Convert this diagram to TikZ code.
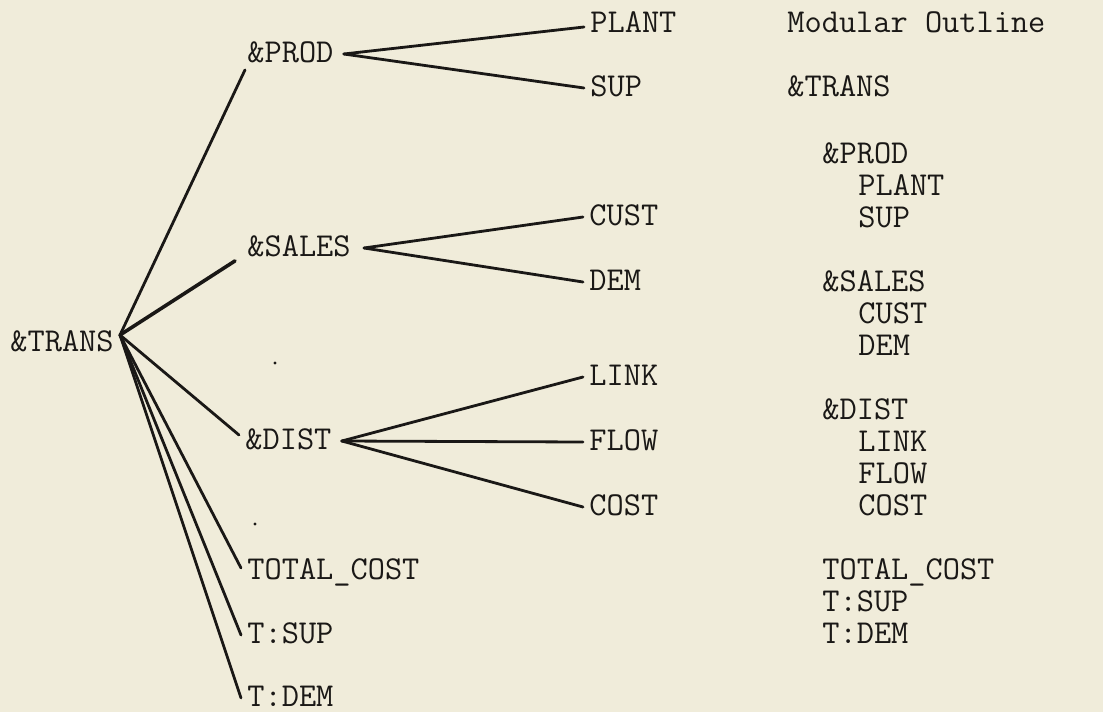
\documentclass[tikz,border=0pt]{standalone}
\usepackage{fontspec}
\definecolor{paper}{RGB}{240,236,218}
\definecolor{ink}{RGB}{26,24,22}
\begin{document}
\begin{tikzpicture}[x=0.5pt,y=-0.5pt,
  lbl/.style={anchor=west, inner xsep=3pt, inner ysep=2pt,
    text height=0.85em, text depth=0pt,
    font=\ttfamily\fontsize{16.7}{19}\selectfont\addfontfeature{FakeBold=0.7}, text=ink},
  branch/.style={draw=ink, line width=1.4pt, line cap=round},
  speck/.style={fill=ink}]
% sheet
\fill[paper] (0,0) rectangle (1103,712);
\useasboundingbox (0,0) rectangle (1103,712);

% ---- tree ----
\node[lbl] (trans) at (4,343) {\&TRANS};
\node[lbl] (prod)  at (241,54)  {\&PROD};
\node[lbl] (sales) at (241,248) {\&SALES};
\node[lbl] (dist)  at (239,441) {\&DIST};
\node[lbl] (tc)    at (241,571) {TOTAL\_COST};
\node[lbl] (tsup)  at (241,635) {T:SUP};
\node[lbl] (tdem)  at (241,698) {T:DEM};

\node[lbl] (plant) at (584,24)  {PLANT};
\node[lbl] (sup)   at (584,88)  {SUP};
\node[lbl] (cust)  at (583,217) {CUST};
\node[lbl] (dem)   at (583,282) {DEM};
\node[lbl] (link)  at (583,377) {LINK};
\node[lbl] (flow)  at (583,442) {FLOW};
\node[lbl] (cost)  at (583,507) {COST};

% branch points
\coordinate (tj) at ([yshift=4pt]trans.east);
\coordinate (pj) at ([xshift=2pt]prod.east);
\coordinate (sj) at ([xshift=3.5pt]sales.east);
\coordinate (dj) at ([xshift=2pt]dist.east);

\draw[branch] (tj) -- ([xshift=2pt,yshift=-1.5pt]prod.south west);
\draw[branch, line width=1.8pt] (tj) -- ([xshift=-3pt]sales.south west);
\draw[branch] (tj) -- ([yshift=3pt]dist.west);
\draw[branch] (tj) -- ([yshift=1.5pt]tc.west);
\draw[branch] (tj) -- (tsup.west);
\draw[branch] (tj) -- (tdem.west);

\draw[branch] (pj) -- ([yshift=-1.5pt]plant.west);
\draw[branch] (pj) -- (sup.west);
\draw[branch] (sj) -- (cust.west);
\draw[branch] (sj) -- (dem.west);
\draw[branch] (dj) -- (link.west);
\draw[branch] (dj) -- (flow.west);
\draw[branch] (dj) -- (cost.west);

% small specks on the sheet
\fill[speck] (275,363) circle (1.6);
\fill[speck] (255,524) circle (1.6);

% ---- outline listing ----
\node[lbl] (otitle) at (781,24)  {Modular Outline};
\node[lbl] (otrans) at (781,88)  {\&TRANS};
\node[lbl] (oprod)  at (816,155) {\&PROD};
\node[lbl] (oplant) at (852,187) {PLANT};
\node[lbl] (osup)   at (852,219) {SUP};
\node[lbl] (osales) at (816,283) {\&SALES};
\node[lbl] (ocust)  at (852,315) {CUST};
\node[lbl] (odem)   at (852,347) {DEM};
\node[lbl] (odist)  at (816,411) {\&DIST};
\node[lbl] (olink)  at (852,443) {LINK};
\node[lbl] (oflow)  at (852,475) {FLOW};
\node[lbl] (ocost)  at (852,507) {COST};
\node[lbl] (otc)    at (816,571) {TOTAL\_COST};
\node[lbl] (otsup)  at (816,603) {T:SUP};
\node[lbl] (otdem)  at (816,635) {T:DEM};
\end{tikzpicture}
\end{document}
